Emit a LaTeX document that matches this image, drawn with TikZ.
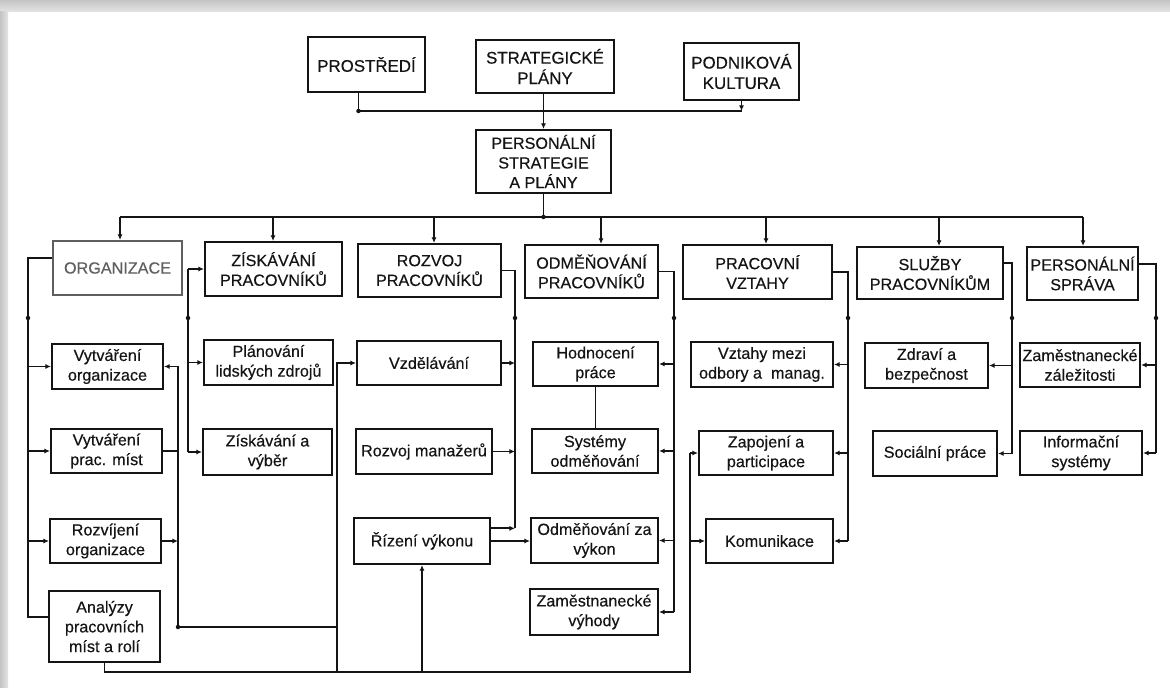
\documentclass[tikz,border=0pt]{standalone}
\usepackage{fontspec}
\setmainfont{Liberation Sans}
\newfontfamily\pkfont{Liberation Sans}[FakeBold=0.35]
\usepackage{xcolor}
\usepackage{tikz}
\usetikzlibrary{arrows.meta,calc}
\definecolor{pkink}{RGB}{20,20,20}
\definecolor{pkfade}{RGB}{95,95,95}
\definecolor{pkshadow}{RGB}{196,196,196}
\tikzset{
  box/.style={rectangle, draw=pkink, line width=1.5pt, fill=white, align=center, inner sep=1pt, text=pkink, font=\pkfont\fontsize{11.5}{14}\selectfont},
  topbox/.style={box, font=\pkfont\fontsize{12}{14.5}\selectfont},
  fadebox/.style={box, draw=pkfade, text=pkfade},
  boxsize/.style 2 args={minimum width=#1*0.025cm, minimum height=#2*0.025cm},
  line/.style={line width=1.3pt, draw=pkink},
  arrow/.style={line, -{Latex[length=4pt,width=3.6pt]}},
  dot/.style={fill=pkink}
}

\begin{document}
\begin{tikzpicture}[x=0.025cm,y=-0.025cm]
\useasboundingbox (0,0) rectangle (1170,688);
\fill[white] (0,0) rectangle (1170,688);
\shade[top color=pkshadow, bottom color=pkshadow!45] (0,0) rectangle (1170,12);
\shade[left color=pkshadow, right color=pkshadow!45] (0,12) rectangle (8,688);

\node[topbox, boxsize={117}{55}] (prost) at (366.5,64.5) {PROSTŘEDÍ};
\node[topbox, boxsize={138}{53}] (strat) at (545,66.5) {STRATEGICKÉ\\PLÁNY};
\node[topbox, boxsize={115}{57}] (podnik) at (741.5,71.5) {PODNIKOVÁ\\KULTURA};
\node[box, boxsize={135}{63}] (persplan) at (543.5,161.5) {PERSONÁLNÍ\\STRATEGIE\\A PLÁNY};

\node[fadebox, boxsize={129}{54}] (organ) at (117.5,268) {ORGANIZACE};
\node[box, boxsize={137}{54}] (ziskav) at (273.5,269) {ZÍSKÁVÁNÍ\\PRACOVNÍKŮ};
\node[box, boxsize={143}{53}] (rozvoj) at (429.5,270.5) {ROZVOJ\\PRACOVNÍKŮ};
\node[box, boxsize={133}{53}] (odmen) at (591.5,271.5) {ODMĚŇOVÁNÍ\\PRACOVNÍKŮ};
\node[box, boxsize={149}{54}] (pracvz) at (757.5,272) {PRACOVNÍ\\VZTAHY};
\node[box, boxsize={146}{52}] (sluzby) at (930,273) {SLUŽBY\\PRACOVNÍKŮM};
\node[box, boxsize={111}{53}] (sprava) at (1082.5,273.5) {PERSONÁLNÍ\\SPRÁVA};

\node[box, boxsize={111}{45}] (vytorg) at (107.5,366.5) {Vytváření\\organizace};
\node[box, boxsize={111}{44}] (vytmist) at (106.5,451) {Vytváření\\prac. míst};
\node[box, boxsize={111}{44}] (rozvorg) at (105.5,541) {Rozvíjení\\organizace};
\node[box, boxsize={111}{71}] (analyzy) at (104.5,626.5) {Analýzy\\pracovních\\míst a rolí};
\node[box, boxsize={129}{45}] (planlz) at (268.5,362.5) {Plánování\\lidských zdrojů};
\node[box, boxsize={129}{46}] (vyber) at (267.5,452) {Získávání a\\výběr};
\node[box, boxsize={144}{44}] (vzdel) at (429,363) {Vzdělávání};
\node[box, boxsize={136}{45}] (rozman) at (424,451.5) {Rozvoj manažerů};
\node[box, boxsize={136}{46}] (rizvyk) at (422,541) {Řízení výkonu};
\node[box, boxsize={125}{44}] (hodnoc) at (595.5,364) {Hodnocení\\práce};
\node[box, boxsize={126}{44}] (sysodm) at (595,451) {Systémy\\odměňování};
\node[box, boxsize={127}{45}] (odmvyk) at (594.5,540.5) {Odměňování za\\výkon};
\node[box, boxsize={128}{46}] (vyhody) at (594,612) {Zaměstnanecké\\výhody};
\node[box, boxsize={142}{45}] (odbory) at (762,364.5) {Vztahy mezi\\odbory a\ \ manag.};
\node[box, boxsize={134}{44}] (zapoj) at (766,453) {Zapojení a\\participace};
\node[box, boxsize={127}{44}] (komun) at (769.5,541) {Komunikace};
\node[box, boxsize={123}{45}] (zdravi) at (926.5,365.5) {Zdraví a\\bezpečnost};
\node[box, boxsize={124}{45}] (social) at (935,453.5) {Sociální práce};
\node[box, boxsize={120}{44}] (zalez) at (1080,365) {Zaměstnanecké\\záležitosti};
\node[box, boxsize={122}{44}] (infsys) at (1081,453) {Informační\\systémy};

\coordinate (topbus) at (543.5,111);
\coordinate (prostout) at ([xshift=-5.7pt]prost.south);
\coordinate (midrow) at (0,318);
\coordinate (lowbus) at (0,672);
\coordinate (orgjoin) at (178,627);
\coordinate (rizout) at ([yshift=9pt]rizvyk.east);
\coordinate (orgleft) at (28,0);
\coordinate (orgright) at (178,0);
\coordinate (ziskleft) at (188,0);
\coordinate (vzdleft) at (337,0);
\coordinate (rozvright) at (515,0);
\coordinate (odmright) at (674,0);
\coordinate (zapleft) at (690,0);
\coordinate (pracright) at (848,0);
\coordinate (sluzright) at (1012,0);
\coordinate (spravright) at (1156,0);

\draw[line] (prostout) |- (topbus) -- (topbus -| podnik.south);
\fill[dot] (prostout |- topbus) circle (1.6pt);
\draw[arrow] (podnik.south) -- (podnik.south |- topbus);
\draw[arrow] (strat.south -| persplan.north) -- (persplan.north);

\foreach \n/\x in {organ/120, ziskav/273, rozvoj/434, odmen/601, pracvz/766, sluzby/939, sprava/1083}{
  \coordinate (d\n) at (\x,217);
  \draw[arrow] (d\n) -- (d\n |- \n.north);
}
\draw[line] (dorgan) -- (dsprava);
\draw[line] (persplan.south) -- (persplan.south |- dorgan);
\fill[dot] (persplan.south |- dorgan) circle (1.6pt);

\draw[line] ([yshift=7pt]organ.west) -| (orgleft |- rozvorg.west) |- ([yshift=7pt]analyzy.west);
\foreach \n in {vytorg,vytmist,rozvorg}
  \draw[arrow] (orgleft |- \n.west) -- (\n.west);
\draw[arrow] (orgright |- vytorg.east) -- (vytorg.east);
\draw[line] (vytmist.east) -- (orgright |- vytmist.east);
\draw[arrow] (rozvorg.east) -- (orgright |- rozvorg.east);
\draw[line] (orgright |- vytorg.east) -- (orgjoin) -- (vzdleft |- orgjoin);
\fill[dot] (orgjoin) circle (1.6pt);

\draw[arrow] (ziskleft |- ziskav.west) -- (ziskav.west);
\draw[line] (ziskleft |- ziskav.west) -- (ziskleft |- vyber.west);
\foreach \n in {planlz,vyber}
  \draw[arrow] (ziskleft |- \n.west) -- (\n.west);

\draw[arrow] (vzdleft |- lowbus) -- (vzdleft |- vzdel.west) -- (vzdel.west);
\draw[line] (analyzy.south) -- (analyzy.south |- lowbus) -- (zapleft |- lowbus) -- (zapleft |- zapoj.west);
\draw[arrow] (rizvyk.south |- lowbus) -- (rizvyk.south);
\foreach \n in {zapoj,komun}
  \draw[arrow] (zapleft |- \n.west) -- (\n.west);

\draw[line] (rozvoj.east) -| (rozvright |- rizout);
\draw[arrow] (rizout) -- (rozvright |- rizout);
\foreach \n in {vzdel,rozman}
  \draw[arrow] (\n.east) -- (rozvright |- \n.east);
\draw[arrow] (rizvyk.east) -- (rizvyk.east -| odmvyk.west);

\draw[line] (hodnoc.south) -- (hodnoc.south |- sysodm.north);
\draw[line] (odmen.east) -| (odmright |- vyhody.east);
\foreach \n in {hodnoc,sysodm,odmvyk,vyhody}
  \draw[arrow] (odmright |- \n.east) -- (\n.east);

\draw[line] (pracvz.east) -| (pracright |- komun.east);
\foreach \n in {odbory,zapoj,komun}
  \draw[arrow] (pracright |- \n.east) -- (\n.east);

\draw[line] ([yshift=7pt]sluzby.east) -| (sluzright |- social.east);
\foreach \n in {zdravi,social}
  \draw[arrow] (sluzright |- \n.east) -- (\n.east);

\draw[line] ([yshift=7pt]sprava.east) -| (spravright |- infsys.east);
\foreach \n in {zalez,infsys}
  \draw[arrow] (spravright |- \n.east) -- (\n.east);

\foreach \r in {orgleft,ziskleft,rozvright,odmright,pracright,sluzright,spravright}
  \fill[dot] (\r |- midrow) circle (1.6pt);
\end{tikzpicture}
\end{document}
